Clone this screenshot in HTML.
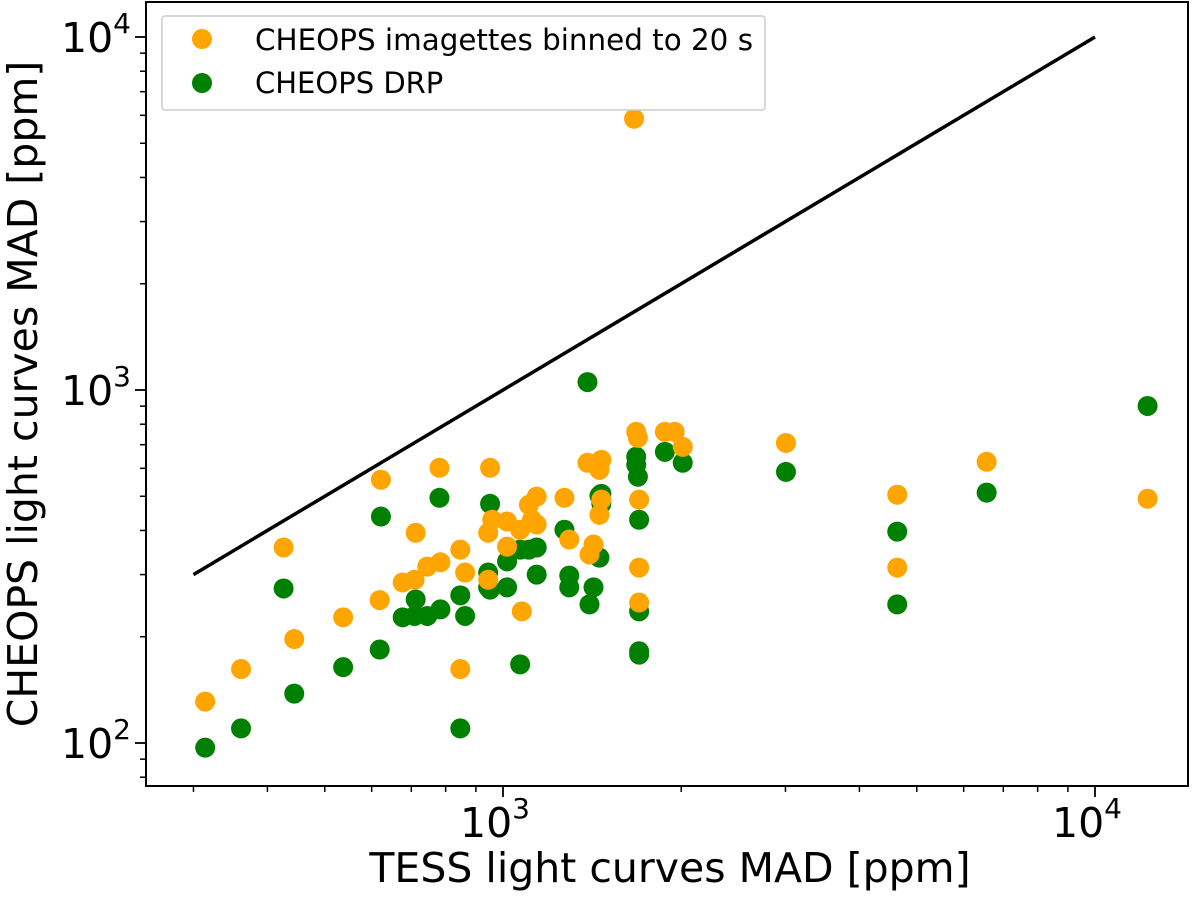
<!DOCTYPE html>
<html><head><meta charset="utf-8"><style>
body{margin:0;background:#fff;}
svg text{font-family:"DejaVu Sans","Liberation Sans",sans-serif;fill:#000;}
</style></head><body>
<svg id="chart" width="1200" height="898"></svg>
<script>
const orangeX=[314,361,426,444,537,622,619,712,709,677,745,781,784,847,847,863,944,951,944,959,1016,1016,1069,1076,1106,1119,1140,1140,1270,1294,1389,1400,1422,1455,1466,1466,1455,1665,1679,1690,1698,1698,1698,1877,1950,2012,3006,4634,4634,6561,12270];
const orangeY=[131,162,358,197,227,557,254,394,290,285,316,602,325,353,162,304,394,602,290,429,424,360,402,236,473,429,499,416,495,377,622,342,365,594,634,489,443,5867,761,732,489,314,250,761,761,690,708,505,314,626,492];
const greenX=[314,361,426,444,537,622,619,677,712,709,745,781,784,847,847,863,944,951,944,951,1016,1016,1069,1069,1106,1140,1140,1270,1294,1294,1389,1400,1422,1455,1466,1466,1455,1679,1679,1690,1698,1698,1698,1698,1877,2012,3006,4634,4634,6561,12270];
const greenY=[97,110,274,138,164,438,184,227,255,229,229,495,239,262,110,229,304,476,276,272,327,276,167,353,353,300,358,402,298,276,1053,247,276,502,508,476,335,647,614,568,429,236,182,178,668,622,586,397,247,512,901];
const refLine=[300,10000];
const xTicks=[1000,10000];
const yTicks=[100,1000,10000];

const NS='http://www.w3.org/2000/svg';
const svg=document.getElementById('chart');
const L=146,R=1188,T=2,B=786;
function sx(v){return 503+592*Math.log10(v/1000);}
function sy(v){return 743-353*Math.log10(v/100);}
function mk(tag,attrs,parent){const e=document.createElementNS(NS,tag);for(const k in attrs)e.setAttribute(k,attrs[k]);(parent||svg).appendChild(e);return e;}

for(let d=100;d<=10000;d*=10){for(let m=2;m<=9;m++){const v=d*m;const x=sx(v);if(x>L&&x<R){const t=mk('line',{x1:x,x2:x,y1:B,y2:B+6,stroke:'#000','stroke-width':1.5});

}}}
for(let d=10;d<=10000;d*=10){for(let m=2;m<=9;m++){const v=d*m;const y=sy(v);if(y>T&&y<B){const t=mk('line',{x1:L-6,x2:L,y1:y,y2:y,stroke:'#000','stroke-width':1.5});

}}}
xTicks.forEach(v=>{const x=sx(v);const t=mk('line',{x1:x,x2:x,y1:B,y2:B+11,stroke:'#000','stroke-width':1.8});


const tx=mk('text',{x:x-8,y:B+51,'font-size':41,'text-anchor':'middle'});


tx.innerHTML='10<tspan dy="-19" font-size="28">'+Math.round(Math.log10(v))+'</tspan>';});
yTicks.forEach(v=>{const y=sy(v);const t=mk('line',{x1:L-11,x2:L,y1:y,y2:y,stroke:'#000','stroke-width':1.8});


const tx=mk('text',{x:L-15,y:y+15,'font-size':41,'text-anchor':'end'});


tx.innerHTML='10<tspan dy="-19" font-size="28">'+Math.round(Math.log10(v))+'</tspan>';});

const ln=mk('line',{x1:sx(refLine[0]),y1:sy(refLine[0]),x2:sx(refLine[1]),y2:sy(refLine[1]),stroke:'#000','stroke-width':3.5});



greenX.forEach((v,i)=>{const c=mk('circle',{cx:sx(v),cy:sy(greenY[i]),r:10,fill:'#008000'});

});
orangeX.forEach((v,i)=>{const c=mk('circle',{cx:sx(v),cy:sy(orangeY[i]),r:10,fill:'#ffa500'});

});

const fr=mk('rect',{x:L,y:T,width:R-L,height:B-T,fill:'none',stroke:'#000','stroke-width':2});



const lg=mk('g',{});


mk('rect',{x:162,y:16,width:603,height:94,rx:3,fill:'#fff',stroke:'#ccc','stroke-width':1.5},lg);
const c1=mk('circle',{cx:202,cy:39,r:10,fill:'#ffa500'},lg);


const t1=mk('text',{x:255,y:50,'font-size':29,textLength:498,lengthAdjust:'spacingAndGlyphs'},lg);t1.textContent='CHEOPS imagettes binned to 20 s';


const c2=mk('circle',{cx:202,cy:83,r:10,fill:'#008000'},lg);


const t2=mk('text',{x:255,y:93,'font-size':29},lg);t2.textContent='CHEOPS DRP';



const xl=mk('text',{x:670,y:882,'font-size':41,'text-anchor':'middle'});xl.textContent='TESS light curves MAD [ppm]';


const yl=mk('text',{x:0,y:0,'font-size':41,'text-anchor':'middle',transform:'translate(37,394) rotate(-90)'});yl.textContent='CHEOPS light curves MAD [ppm]';


</script>
</body></html>
